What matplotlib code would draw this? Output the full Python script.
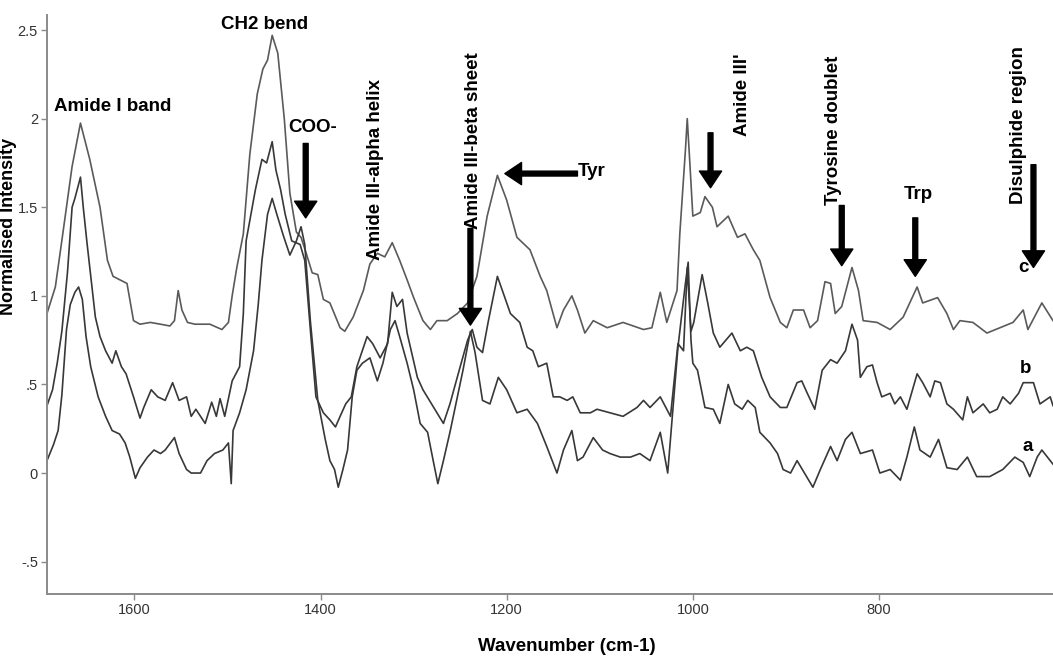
import matplotlib
matplotlib.use("Agg")
import matplotlib.pyplot as plt

plt.rcParams['font.family'] = ['Liberation Sans', 'DejaVu Sans']

# spectrum c (top)
wn_c = [1694, 1685, 1677, 1667, 1658, 1648, 1637, 1629, 1623, 1608,
        1601, 1594, 1583, 1572, 1562, 1557, 1553, 1549, 1543, 1535,
        1519, 1506, 1499, 1495, 1490, 1483, 1476, 1468, 1462, 1457,
        1452, 1446, 1439, 1433, 1426, 1421, 1416, 1409, 1403, 1397,
        1390, 1379, 1374, 1365, 1354, 1347, 1339, 1331, 1323, 1315,
        1307, 1300, 1290, 1282, 1275, 1264, 1253, 1242, 1232, 1221,
        1210, 1200, 1189, 1175, 1164, 1157, 1146, 1139, 1130, 1124,
        1116, 1107, 1092, 1075, 1053, 1044, 1035, 1028, 1017, 1014,
        1008, 1006, 1003, 1000, 992, 987, 979, 974, 962, 952,
        944, 935, 928, 917, 906, 899, 892, 881, 874, 866,
        858, 852, 847, 840, 829, 822, 817, 802, 788, 774,
        759, 753, 737, 727, 720, 713, 699, 684, 670, 656,
        645, 640, 625, 613]
int_c = [0.90, 1.05, 1.35, 1.73, 1.975, 1.77, 1.50, 1.20, 1.11, 1.07,
         0.86, 0.84, 0.85, 0.84, 0.83, 0.86, 1.03, 0.92, 0.85, 0.84,
         0.84, 0.81, 0.85, 1.00, 1.16, 1.35, 1.80, 2.14, 2.28, 2.33,
         2.47, 2.37, 2.00, 1.58, 1.36, 1.33, 1.25, 1.13, 1.12, 0.98,
         0.96, 0.82, 0.80, 0.88, 1.03, 1.18, 1.24, 1.22, 1.30, 1.20,
         1.09, 0.99, 0.86, 0.81, 0.86, 0.86, 0.90, 0.96, 1.11, 1.45,
         1.68, 1.54, 1.33, 1.26, 1.11, 1.03, 0.82, 0.92, 1.00, 0.92,
         0.79, 0.86, 0.82, 0.85, 0.81, 0.82, 1.02, 0.85, 1.03, 1.35,
         1.82, 2.00, 1.73, 1.45, 1.47, 1.56, 1.50, 1.39, 1.45, 1.33,
         1.35, 1.26, 1.20, 0.99, 0.85, 0.82, 0.92, 0.92, 0.82, 0.86,
         1.08, 1.07, 0.90, 0.94, 1.16, 1.03, 0.86, 0.85, 0.81, 0.88,
         1.05, 0.96, 0.99, 0.90, 0.81, 0.86, 0.85, 0.79, 0.82, 0.85,
         0.92, 0.81, 0.96, 0.86]

# spectrum b (middle)
wn_b = [1694, 1688, 1683, 1678, 1672, 1667, 1664, 1658, 1655, 1651,
        1648, 1642, 1637, 1631, 1624, 1620, 1614, 1609, 1601, 1594,
        1590, 1582, 1575, 1567, 1559, 1552, 1544, 1539, 1534, 1524,
        1517, 1512, 1508, 1503, 1495, 1487, 1483, 1480, 1470, 1463,
        1458, 1452, 1448, 1443, 1438, 1431, 1422, 1417, 1411, 1405,
        1397, 1390, 1384, 1379, 1373, 1367, 1361, 1350, 1344, 1336,
        1328, 1323, 1318, 1312, 1307, 1296, 1290, 1275, 1268, 1261,
        1250, 1242, 1237, 1232, 1226, 1220, 1210, 1204, 1196, 1186,
        1178, 1172, 1166, 1157, 1150, 1143, 1135, 1129, 1121, 1110,
        1103, 1089, 1075, 1060, 1053, 1046, 1035, 1024, 1016, 1010,
        1006, 1002, 999, 990, 984, 978, 971, 958, 949, 942,
        935, 926, 917, 906, 899, 888, 883, 877, 869, 861,
        852, 845, 836, 829, 823, 820, 813, 807, 802, 797,
        788, 783, 777, 770, 759, 753, 745, 740, 734, 727,
        720, 710, 705, 699, 688, 681, 673, 667, 659, 650,
        645, 634, 627, 616, 613]
int_b = [0.38, 0.47, 0.62, 0.80, 1.13, 1.50, 1.55, 1.67, 1.50, 1.30,
         1.16, 0.88, 0.77, 0.69, 0.62, 0.69, 0.60, 0.56, 0.43, 0.31,
         0.37, 0.47, 0.43, 0.41, 0.51, 0.41, 0.43, 0.32, 0.36, 0.28,
         0.40, 0.32, 0.42, 0.32, 0.52, 0.60, 0.90, 1.31, 1.60, 1.77,
         1.75, 1.87, 1.71, 1.60, 1.46, 1.31, 1.29, 1.20, 0.81, 0.43,
         0.34, 0.30, 0.26, 0.32, 0.39, 0.43, 0.60, 0.77, 0.73, 0.65,
         0.73, 1.02, 0.94, 0.98, 0.79, 0.54, 0.47, 0.34, 0.28, 0.39,
         0.60, 0.75, 0.81, 0.71, 0.68, 0.85, 1.11, 1.02, 0.90, 0.85,
         0.71, 0.69, 0.60, 0.62, 0.43, 0.43, 0.41, 0.43, 0.34, 0.34,
         0.36, 0.34, 0.32, 0.37, 0.41, 0.37, 0.43, 0.32, 0.73, 0.69,
         1.16, 0.80, 0.85, 1.12, 0.96, 0.79, 0.71, 0.79, 0.69, 0.71,
         0.69, 0.54, 0.43, 0.37, 0.37, 0.51, 0.52, 0.45, 0.36, 0.58,
         0.64, 0.62, 0.69, 0.84, 0.75, 0.54, 0.60, 0.61, 0.51, 0.43,
         0.45, 0.39, 0.43, 0.36, 0.56, 0.51, 0.43, 0.52, 0.51, 0.39,
         0.36, 0.30, 0.43, 0.34, 0.39, 0.34, 0.36, 0.43, 0.39, 0.45,
         0.51, 0.51, 0.39, 0.43, 0.38]

# spectrum a (bottom)
wn_a = [1694, 1687, 1682, 1678, 1673, 1669, 1664, 1660, 1656, 1652,
        1647, 1639, 1631, 1624, 1616, 1610, 1605, 1599, 1594, 1586,
        1579, 1572, 1567, 1557, 1552, 1544, 1539, 1529, 1522, 1514,
        1505, 1499, 1496, 1494, 1487, 1480, 1472, 1467, 1463, 1457,
        1452, 1447, 1440, 1433, 1426, 1421, 1417, 1411, 1403, 1395,
        1390, 1385, 1381, 1376, 1371, 1366, 1361, 1355, 1347, 1339,
        1333, 1325, 1320, 1315, 1307, 1300, 1293, 1285, 1279, 1274,
        1268, 1261, 1253, 1247, 1239, 1234, 1226, 1218, 1209, 1200,
        1189, 1178, 1167, 1157, 1146, 1139, 1130, 1124, 1118, 1107,
        1097, 1089, 1078, 1067, 1057, 1046, 1035, 1027, 1016, 1008,
        1005, 1002, 1000, 995, 987, 978, 971, 962, 955, 947,
        941, 933, 928, 917, 909, 903, 895, 888, 879, 871,
        863, 852, 845, 836, 829, 820, 807, 799, 788, 777,
        770, 762, 756, 745, 736, 727, 716, 705, 695, 681,
        667, 654, 645, 638, 630, 625, 616, 613]
int_a = [0.07, 0.16, 0.24, 0.44, 0.81, 0.95, 1.02, 1.05, 0.98, 0.77,
         0.60, 0.43, 0.32, 0.24, 0.22, 0.17, 0.09, -0.03, 0.03, 0.09,
         0.13, 0.11, 0.13, 0.20, 0.11, 0.02, 0.00, 0.00, 0.07, 0.11,
         0.13, 0.17, -0.06, 0.24, 0.34, 0.47, 0.69, 0.95, 1.20, 1.46,
         1.55, 1.46, 1.34, 1.23, 1.31, 1.39, 1.29, 0.86, 0.41, 0.19,
         0.07, 0.02, -0.08, 0.02, 0.13, 0.43, 0.58, 0.62, 0.65, 0.52,
         0.62, 0.81, 0.86, 0.77, 0.62, 0.47, 0.28, 0.23, 0.07, -0.06,
         0.07, 0.23, 0.43, 0.58, 0.80, 0.68, 0.41, 0.39, 0.54, 0.47,
         0.34, 0.36, 0.28, 0.15, 0.00, 0.13, 0.24, 0.07, 0.09, 0.20,
         0.13, 0.11, 0.09, 0.09, 0.11, 0.07, 0.23, 0.00, 0.71, 1.07,
         1.19, 0.75, 0.62, 0.58, 0.37, 0.36, 0.28, 0.50, 0.39, 0.36,
         0.41, 0.37, 0.23, 0.17, 0.11, 0.02, 0.00, 0.07, -0.01, -0.08,
         0.02, 0.15, 0.07, 0.19, 0.23, 0.11, 0.13, 0.00, 0.02, -0.04,
         0.09, 0.26, 0.13, 0.09, 0.19, 0.03, 0.02, 0.09, -0.02, -0.02,
         0.02, 0.09, 0.06, -0.02, 0.09, 0.13, 0.07, 0.05]

x_ticks = [1600, 1400, 1200, 1000, 800]
y_ticks = [-0.5, 0, 0.5, 1, 1.5, 2, 2.5]
y_tick_labels = ['-.5', '0', '.5', '1', '1.5', '2', '2.5']

# band labels: text, x, y
band_labels = [
    ('Amide I band', 1623, 2.07),
    ('CH2 bend', 1460, 2.53),
    ('COO-', 1409, 1.95),
    ('Trp', 758, 1.57),
]
vertical_labels = [
    ('Amide III-alpha helix', 1341, 1.20),
    ('Amide III-beta sheet', 1236, 1.38),
    ("Amide III'", 947, 1.90),
    ('Tyrosine doublet', 849, 1.51),
    ('Disulphide region', 650, 1.52),
]
# arrows: (tail x, tail y, tip x, tip y)
arrows = [
    (1416, 1.86, 1416, 1.44),
    (1239, 1.38, 1239, 0.835),
    (1124, 1.69, 1202, 1.69),
    (981, 1.92, 981, 1.61),
    (840, 1.51, 840, 1.17),
    (761, 1.44, 761, 1.11),
    (634, 1.74, 634, 1.16),
]
series_labels = [('c', 645, 1.16), ('b', 642, 0.59), ('a', 640, 0.15)]

fig = plt.figure(figsize=(10.53, 6.66), dpi=100)
ax = fig.add_axes([0.0446, 0.108, 0.9554, 0.8695])

ax.plot(wn_c, int_c, color='#5a5a5a', lw=1.2)
ax.plot(wn_b, int_b, color='#383838', lw=1.2)
ax.plot(wn_a, int_a, color='#383838', lw=1.2)

ax.set_xlim(1694, 613)
ax.set_ylim(-0.683, 2.585)
ax.set_xticks(x_ticks)
ax.set_xticklabels([str(t) for t in x_ticks])
ax.set_yticks(y_ticks)
ax.set_yticklabels(y_tick_labels)

for side in ['top', 'right']:
    ax.spines[side].set_visible(False)
for side in ['left', 'bottom']:
    ax.spines[side].set_color('#8a8a8a')
    ax.spines[side].set_linewidth(1.4)
ax.tick_params(direction='out', length=4, width=1, color='#8a8a8a',
               labelsize=10.5, labelcolor='#333333', pad=2.5)

for txt, x, y in band_labels:
    ax.text(x, y, txt, ha='center', va='center', fontsize=13.5,
            fontweight='bold', color='black')
for txt, x, y in vertical_labels:
    ax.text(x, y, txt, ha='center', va='bottom', rotation=90,
            fontsize=13.5, fontweight='bold', color='black')
ax.text(1124, 1.70, 'Tyr', ha='left', va='center', fontsize=13.5,
        fontweight='bold', color='black')

for x0, y0, x1, y1 in arrows:
    ax.annotate('', xy=(x1, y1), xytext=(x0, y0),
                arrowprops=dict(arrowstyle='simple,head_length=0.75,head_width=1.0,tail_width=0.22',
                                color='black', shrinkA=0, shrinkB=0,
                                mutation_scale=16))

for txt, x, y in series_labels:
    ax.text(x, y, txt, ha='center', va='center', fontsize=13.5,
            fontweight='bold', color='black')

fig.text(0.0085, 0.66, 'Normalised Intensity', rotation=90, ha='center',
         va='center', fontsize=13, fontweight='bold')
fig.text(0.538, 0.017, 'Wavenumber (cm-1)', ha='center', va='bottom',
         fontsize=13.5, fontweight='bold')

fig.savefig('out.png', dpi=100)
